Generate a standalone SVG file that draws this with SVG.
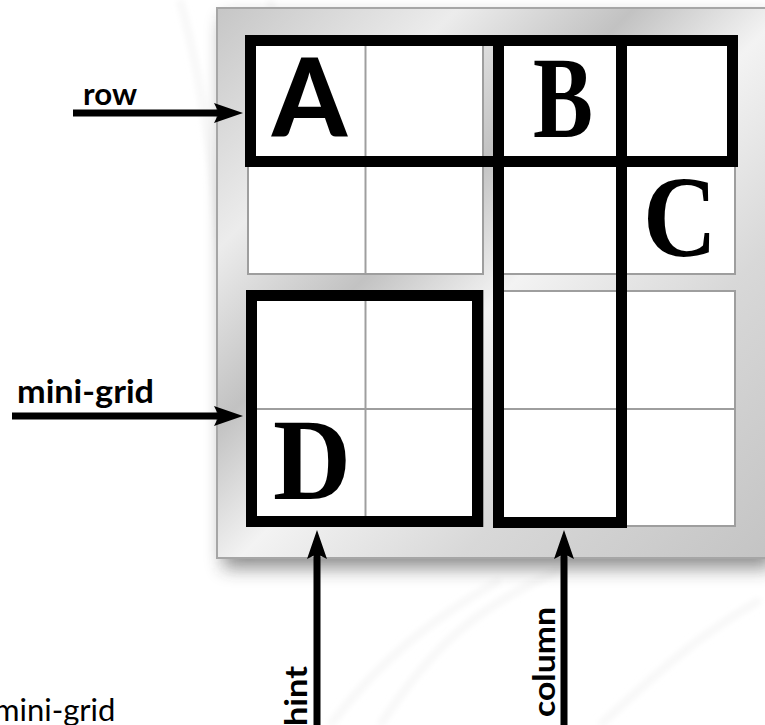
<svg xmlns="http://www.w3.org/2000/svg" width="765" height="725" viewBox="0 0 765 725">
  <style>
    .cell { fill: #ffffff; stroke: #9e9e9e; stroke-width: 2; }
    .div { stroke: #9e9e9e; stroke-width: 2; }
    .thick { fill: none; stroke: #000000; stroke-width: 11; }
    .conn { stroke: #000000; stroke-width: 7; fill: none; }
    .lbl { font-family: Lato, "Open Sans", "DejaVu Sans", sans-serif; font-weight: bold; fill: #000; }
    .big-serif { font-family: "Liberation Serif", "DejaVu Serif", serif; font-weight: bold; font-size: 116px; fill: #000; }
    .big-sans { font-family: Lato, "Liberation Sans", sans-serif; font-weight: 900; font-size: 108px; fill: #000; }
    .swoosh { fill: none; stroke: #f5f5f5; stroke-width: 6; }
  </style>
  <defs>
    <linearGradient id="metal" x1="0" y1="0" x2="1" y2="1">
      <stop offset="0" stop-color="#c6c6c6"/>
      <stop offset="0.22" stop-color="#ececec"/>
      <stop offset="0.38" stop-color="#c2c2c2"/>
      <stop offset="0.52" stop-color="#f3f3f3"/>
      <stop offset="0.72" stop-color="#d8d8d8"/>
      <stop offset="1" stop-color="#c4c4c4"/>
    </linearGradient>
    <filter id="blur" x="-10%" y="-10%" width="120%" height="130%">
      <feGaussianBlur stdDeviation="9"/>
    </filter>
    <filter id="soft" x="-10%" y="-10%" width="120%" height="120%">
      <feGaussianBlur stdDeviation="3"/>
    </filter>
    <marker id="head" markerUnits="userSpaceOnUse" markerWidth="30" markerHeight="22" refX="5" refY="10" orient="auto" viewBox="0 0 30 22">
      <path d="M0,0 L29,10 L0,20 L5,10 z" fill="#000"/>
    </marker>
  </defs>

  <rect width="765" height="725" fill="#ffffff"/>
  <g id="background" filter="url(#soft)">
    <path class="swoosh" d="M270,0 C300,150 290,300 330,460"/>
    <path class="swoosh" d="M180,0 C230,180 220,380 250,560"/>
    <path class="swoosh" d="M380,725 C430,650 470,610 560,570"/>
    <path class="swoosh" d="M330,725 C380,660 430,620 500,580"/>
    <path class="swoosh" d="M600,725 C650,680 690,640 760,600"/>
  </g>

  <g id="board">
    <rect x="223" y="18" width="549" height="550" fill="#333" opacity="0.55" filter="url(#blur)"/>
    <rect x="217" y="8" width="549" height="550" fill="url(#metal)" stroke="#a6a6a6" stroke-width="2"/>
  </g>

  <g id="minigrid-tl">
    <rect class="cell" x="248" y="42" width="235" height="232"/>
    <line class="div" x1="365.5" y1="42" x2="365.5" y2="274"/>
    <line class="div" x1="248" y1="158" x2="483" y2="158"/>
  </g>
  <g id="minigrid-tr">
    <rect class="cell" x="497" y="42" width="238" height="232"/>
    <line class="div" x1="620" y1="42" x2="620" y2="274"/>
    <line class="div" x1="497" y1="158" x2="735" y2="158"/>
  </g>
  <g id="minigrid-bl">
    <rect class="cell" x="248" y="291" width="235" height="235"/>
    <line class="div" x1="365.5" y1="291" x2="365.5" y2="526"/>
    <line class="div" x1="248" y1="409" x2="483" y2="409"/>
  </g>
  <g id="minigrid-br">
    <rect class="cell" x="497" y="291" width="238" height="235"/>
    <line class="div" x1="620" y1="291" x2="620" y2="526"/>
    <line class="div" x1="497" y1="409" x2="735" y2="409"/>
  </g>

  <g id="row-box"><rect class="thick" x="250.5" y="40.5" width="482" height="121"/></g>
  <g id="column-box"><rect class="thick" x="498.5" y="40.5" width="123" height="482"/></g>
  <g id="mini-grid-box"><rect class="thick" x="251.5" y="295.5" width="226" height="226"/></g>

  <g id="letters">
    <text class="big-sans" x="272" y="137" textLength="75" lengthAdjust="spacingAndGlyphs">A</text>
    <text class="big-serif" x="533" y="137" textLength="60" lengthAdjust="spacingAndGlyphs">B</text>
    <text class="big-serif" x="643" y="256" textLength="74" lengthAdjust="spacingAndGlyphs">C</text>
    <text class="big-serif" x="273" y="499" textLength="78" lengthAdjust="spacingAndGlyphs">D</text>
  </g>

  <g id="connectors">
    <line class="conn" x1="73" y1="113" x2="219" y2="113" marker-end="url(#head)"/>
    <line class="conn" x1="12" y1="416" x2="219" y2="416" marker-end="url(#head)"/>
    <line class="conn" x1="317" y1="730" x2="317" y2="554" marker-end="url(#head)"/>
    <line class="conn" x1="564" y1="730" x2="564" y2="554" marker-end="url(#head)"/>
  </g>

  <g id="labels">
    <text class="lbl" x="83" y="105" font-size="30" textLength="54" lengthAdjust="spacingAndGlyphs">row</text>
    <text class="lbl" x="17" y="403" font-size="32" textLength="137" lengthAdjust="spacingAndGlyphs">mini-grid</text>
    <text class="lbl" font-size="31" transform="translate(307,726) rotate(-90)" textLength="60" lengthAdjust="spacingAndGlyphs">hint</text>
    <text class="lbl" font-size="31" transform="translate(555,717) rotate(-90)" textLength="110" lengthAdjust="spacingAndGlyphs">column</text>
    <text x="-6" y="721" font-family="Lato, 'Open Sans', sans-serif" font-size="31" fill="#000">mini-grid</text>
  </g>
</svg>
